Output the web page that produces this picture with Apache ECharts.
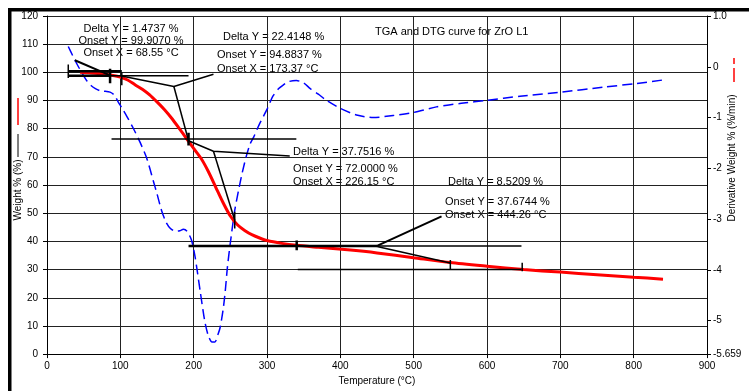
<!DOCTYPE html>
<html><head><meta charset="utf-8">
<script src="https://cdn.jsdelivr.net/npm/echarts@6/dist/echarts.min.js"></script>
<style>html,body{margin:0;padding:0;background:#fff}#c{width:749px;height:391px}</style>
</head><body><div id="c"></div>
<script>
// TGA (weight %) curve
const tgaT = [45,60,75,90,100,110,120,130,140,150,160,170,180,190,200,210,220,230,240,250,260,270,280,290,300,320,340,370,410,450,500,550,600,650,700,750,800,840];
const tgaW = [100.0,99.8,99.5,98.9,98.3,97.3,95.6,94.0,92.0,89.5,86.8,83.7,80.2,76.6,73.0,69.5,64.8,59.3,53.8,49.0,45.8,43.8,42.3,41.2,40.3,39.3,38.6,37.9,37.0,35.9,34.2,32.5,31.2,30.0,29.1,28.2,27.3,26.6];
// DTG (derivative weight %/min) curve
const dtgT = [29,35,41,48,54,60,66,72,77,86,92,97,103,109,118,127,136,145,150,156,162,168,175,181,186,191,197,202,209,215,220,225,229,233,236,240,243,246,250,256,261,266,272,277,282,290,300,308,316,322,330,340,350,359,370,381,400,422,445,472,500,531,565,600,645,700,759,804,840];
const dtgD = [0.40,0.22,0.05,-0.13,-0.27,-0.37,-0.43,-0.47,-0.48,-0.50,-0.56,-0.69,-0.83,-0.98,-1.22,-1.49,-1.80,-2.25,-2.50,-2.82,-3.05,-3.18,-3.24,-3.23,-3.20,-3.24,-3.41,-3.75,-4.43,-5.00,-5.30,-5.42,-5.42,-5.28,-5.14,-4.80,-4.43,-3.95,-3.47,-2.83,-2.45,-2.10,-1.75,-1.52,-1.38,-1.12,-0.84,-0.58,-0.43,-0.36,-0.29,-0.27,-0.32,-0.43,-0.54,-0.66,-0.82,-0.95,-1.00,-0.96,-0.90,-0.79,-0.72,-0.66,-0.58,-0.50,-0.40,-0.33,-0.26];
// Axis ticks
const xTicks = [0,100,200,300,400,500,600,700,800,900];
const rightTicks = [1,0,-1,-2,-3,-4,-5,-5.659];
// Onset analysis construction lines (T, W)
const step1Lines = [
  {pts:[[29,100.4],[102,100.4]], w:2.5},
  {pts:[[29,98.8],[86,98.8]], w:2.5},
  {pts:[[86,98.8],[193,98.8]], w:1.5},
  {pts:[[38,104.3],[86,98.9]], w:2},
  {pts:[[29,102.8],[29,98]], w:1.5},
  {pts:[[86,101.3],[86,96.1]], w:2.5},
  {pts:[[102,100],[102,95.4]], w:1.5}
];
const step2Lines = [
  {pts:[[100,98.8],[173,95],[227,99.3]], w:1.5},
  {pts:[[173,95],[193,75.7]], w:1.5},
  {pts:[[88,76.3],[340,76.3]], w:1.5},
  {pts:[[193,78.6],[193,74]], w:2.5}
];
const step3Lines = [
  {pts:[[193,75.7],[227,72.0],[331,70.3]], w:1.5},
  {pts:[[227,72.0],[256,47.5]], w:1.5},
  {pts:[[256,50.5],[256,44.6]], w:1.5}
];
const step4Lines = [
  {pts:[[193,38.4],[450,38.4]], w:2.5},
  {pts:[[450,38.4],[647,38.4]], w:1.5},
  {pts:[[450,38.4],[538,48.9]], w:2},
  {pts:[[450,38.2],[550,32.3]], w:1.5},
  {pts:[[340.5,40.3],[340.5,36.9]], w:2.5},
  {pts:[[550,33.4],[550,30.2]], w:1.5},
  {pts:[[342,30.0],[647,30.0]], w:1.5},
  {pts:[[648,32.4],[648,29.4]], w:1.5}
];
const annoTexts = [
  ["Delta Y = 1.4737 %","Onset Y = 99.9070 %","Onset X = 68.55 °C"],
  ["Delta Y = 22.4148 %","Onset Y = 94.8837 %","Onset X = 173.37 °C"],
  ["Delta Y = 37.7516 %","Onset Y = 72.0000 %","Onset X = 226.15 °C"],
  ["Delta Y = 8.5209 %","Onset Y = 37.6744 %","Onset X = 444.26 °C"]
];
const titleText = "TGA and DTG curve for ZrO L1";

const FONT = '"Liberation Sans", Arial, sans-serif';
const chart = echarts.init(document.getElementById('c'), null, {renderer:'canvas'});
const series = [
  {type:'line', name:'DTG', yAxisIndex:1, data:dtgT.map((t,i)=>[t,dtgD[i]]), showSymbol:false, smooth:0.25,
   lineStyle:{color:'#0000ff', width:1.5, type:[10,5]}, z:3, silent:true},
  {type:'line', name:'TGA', yAxisIndex:0, data:tgaT.map((t,i)=>[t,tgaW[i]]), showSymbol:false, smooth:0.25,
   lineStyle:{color:'#ff0000', width:3}, z:4, silent:true}
];
[step1Lines,step2Lines,step3Lines,step4Lines].forEach(group=>group.forEach(s=>{
  series.push({type:'line', yAxisIndex:0, data:s.pts, showSymbol:false, silent:true, z:5,
    lineStyle:{color:'#000', width:s.w}});
}));

const textPos = [
  {x:131, ys:[29,40.5,52.5], align:'center'},
  {x:217, ys:[37,55,68.5], align:'left', first:223},
  {x:293, ys:[152,169,182], align:'left'},
  {x:445, ys:[182,201.5,215], align:'left', first:448}
];
const graphics = [
  {type:'rect', shape:{x:8,y:8,width:741,height:3.5}, style:{fill:'#000'}},
  {type:'rect', shape:{x:8,y:8,width:3.5,height:383}, style:{fill:'#000'}},
  {type:'text', x:375, y:31.5, style:{text:titleText, font:'11px '+FONT, fill:'#000', textVerticalAlign:'middle'}},
  {type:'text', x:18, y:190, rotation:Math.PI/2, style:{text:'Weight % (%)', font:'10px '+FONT, fill:'#000', textAlign:'center', textVerticalAlign:'middle'}},
  {type:'line', shape:{x1:18,y1:134,x2:18,y2:157}, style:{stroke:'#000', lineWidth:1}},
  {type:'line', shape:{x1:18,y1:98,x2:18,y2:125}, style:{stroke:'#ff0000', lineWidth:1.5}},
  {type:'text', x:732, y:158, rotation:Math.PI/2, style:{text:'Derivative Weight % (%/min)', font:'10px '+FONT, fill:'#000', textAlign:'center', textVerticalAlign:'middle'}},
  {type:'line', shape:{x1:734,y1:58,x2:734,y2:64}, style:{stroke:'#ff0000', lineWidth:1.5}},
  {type:'line', shape:{x1:734,y1:68,x2:734,y2:82}, style:{stroke:'#ff0000', lineWidth:1.5}}
];
annoTexts.forEach((lines,k)=>{
  const p = textPos[k];
  lines.forEach((t,j)=>{
    graphics.push({type:'text', x:(j===0&&p.first)?p.first:p.x, y:p.ys[j],
      style:{text:t, font:'11px '+FONT, fill:'#000', textAlign:p.align, textVerticalAlign:'middle'}});
  });
});

chart.setOption({
  animation:false,
  backgroundColor:'#fff',
  grid:{left:47, right:42, top:16, bottom:27, containLabel:false},
  xAxis:{type:'value', min:0, max:900, interval:100,
    name:'Temperature (°C)', nameLocation:'middle', nameGap:17,
    nameTextStyle:{fontFamily:FONT, fontSize:10, color:'#000'},
    axisLine:{lineStyle:{color:'#000', width:1}},
    axisTick:{show:true, length:4, lineStyle:{color:'#000'}},
    axisLabel:{fontFamily:FONT, fontSize:10, color:'#000', margin:7},
    splitLine:{show:true, lineStyle:{color:'#222', width:1}}},
  yAxis:[
    {type:'value', min:0, max:120, interval:10, position:'left',
     axisLine:{show:true, lineStyle:{color:'#000'}},
     axisTick:{show:true, length:4, lineStyle:{color:'#000'}},
     axisLabel:{fontFamily:FONT, fontSize:10, color:'#000', margin:9},
     splitLine:{show:true, lineStyle:{color:'#222', width:1}}},
    {type:'value', min:-5.659, max:1, position:'right',
     axisLine:{show:true, lineStyle:{color:'#000'}},
     axisTick:{show:true, length:4, customValues:rightTicks, lineStyle:{color:'#000'}},
     axisLabel:{fontFamily:FONT, fontSize:10, color:'#000', margin:6, customValues:rightTicks,
       formatter:v=>{ if (Math.abs(v-1)<1e-9) return '1.0'; if (Math.abs(v+5.659)<1e-6) return '-5.659'; return String(Math.round(v)); }},
     splitLine:{show:false}}
  ],
  series:series,
  graphic:graphics
});
</script></body></html>
